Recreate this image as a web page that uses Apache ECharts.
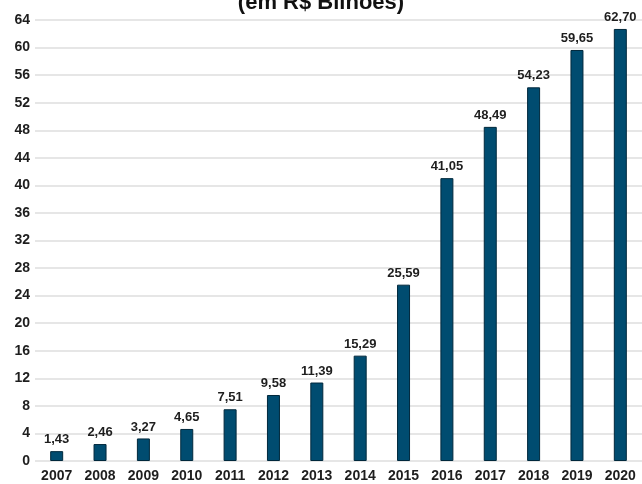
<!DOCTYPE html>
<html>
<head>
<meta charset="utf-8">
<script src="https://cdn.jsdelivr.net/npm/echarts@6/dist/echarts.min.js"></script>
<style>
html,body{margin:0;padding:0;background:#fff;}
#chart{width:642px;height:484px;}
</style>
</head>
<body>
<div id="chart"></div>
<script>
var titleText = '(em R$ Bilhões)';
var years = ['2007','2008','2009','2010','2011','2012','2013','2014','2015','2016','2017','2018','2019','2020'];
var values = [1.43, 2.46, 3.27, 4.65, 7.51, 9.58, 11.39, 15.29, 25.59, 41.05, 48.49, 54.23, 59.65, 62.70];

var chart = echarts.init(document.getElementById('chart'), null, {renderer: 'canvas'});
var font = 'Liberation Sans, Arial, sans-serif';
chart.setOption({
  animation: false,
  backgroundColor: '#ffffff',
  title: {
    text: titleText,
    left: 'center',
    top: -13,
    textStyle: {fontFamily: font, fontSize: 22, fontWeight: 'bold', color: '#111'}
  },
  grid: {left: 35, top: 20, bottom: 23, width: 611, containLabel: false},
  xAxis: {
    type: 'category',
    data: years,
    axisLine: {show: false},
    axisTick: {show: false},
    axisLabel: {fontFamily: font, fontSize: 14, fontWeight: 'bold', color: '#1e1e1e', margin: 8, interval: 0}
  },
  yAxis: {
    type: 'value',
    min: 0,
    max: 64,
    interval: 4,
    axisLine: {show: false},
    axisTick: {show: false},
    axisLabel: {fontFamily: font, fontSize: 14, fontWeight: 'bold', color: '#1e1e1e', margin: 5},
    splitLine: {lineStyle: {color: '#dedede', width: 1.5}}
  },
  series: [{
    type: 'bar',
    data: values,
    barWidth: 13,
    itemStyle: {color: '#004c70', borderColor: '#00283c', borderWidth: 1},
    label: {
      show: true,
      position: 'top',
      distance: 5,
      fontFamily: font,
      fontSize: 13,
      fontWeight: 'bold',
      color: '#1e1e1e',
      formatter: function (p) { return p.value.toFixed(2).replace('.', ','); }
    }
  }]
});
</script>
</body>
</html>
